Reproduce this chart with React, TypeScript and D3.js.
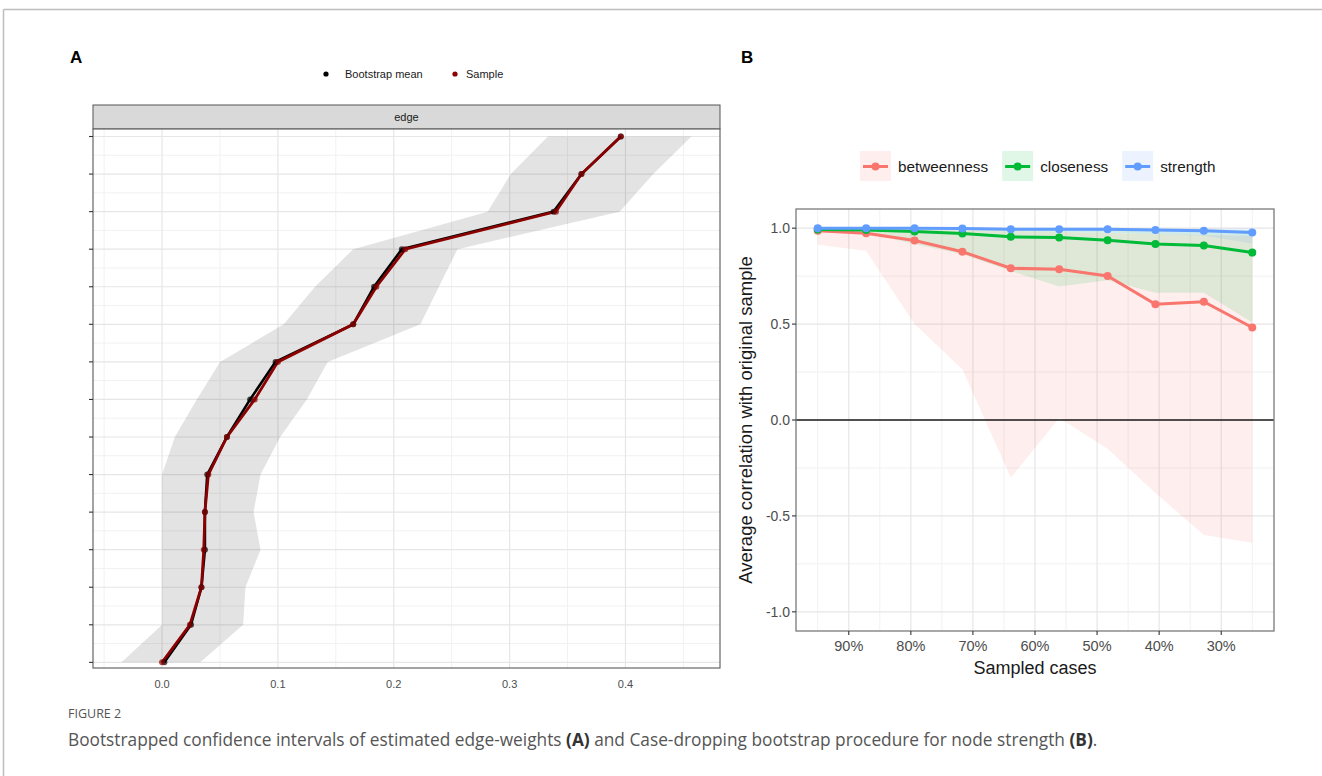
import React, { useRef, useEffect } from 'react';
import * as d3 from 'd3';

// Panel A: edge weights, sorted from smallest (bottom) to largest (top)
const EDGE_RANK = d3.range(1, 16);
const BOOT_MEAN = [0.002, 0.025, 0.034, 0.037, 0.037, 0.039, 0.056, 0.076, 0.098, 0.165, 0.183, 0.207, 0.338, 0.362, 0.396];
const SAMPLE_W = [0.000, 0.024, 0.034, 0.036, 0.037, 0.040, 0.056, 0.080, 0.100, 0.165, 0.185, 0.210, 0.340, 0.362, 0.396];
const CI_LOWER = [-0.035, 0.000, 0.000, 0.000, 0.000, 0.000, 0.011, 0.030, 0.050, 0.105, 0.132, 0.165, 0.281, 0.301, 0.333];
const CI_UPPER = [0.033, 0.070, 0.072, 0.085, 0.079, 0.085, 0.102, 0.125, 0.143, 0.223, 0.239, 0.255, 0.395, 0.424, 0.457];
const A_TICKS = [0.0, 0.1, 0.2, 0.3, 0.4];

// Panel B: case-dropping bootstrap
const SAMPLED = [95, 87.2, 79.4, 71.7, 63.9, 56.1, 48.3, 40.6, 32.8, 25];
const BETWEENNESS = [0.986, 0.974, 0.936, 0.877, 0.791, 0.786, 0.751, 0.603, 0.617, 0.482];
const CLOSENESS = [0.993, 0.990, 0.983, 0.972, 0.955, 0.951, 0.937, 0.917, 0.910, 0.873];
const STRENGTH = [1.0, 1.0, 0.999, 0.998, 0.995, 0.995, 0.994, 0.990, 0.987, 0.977];
const BETWEENNESS_LO = [0.913, 0.882, 0.50, 0.264, -0.30, 0.01, -0.15, -0.38, -0.60, -0.64];
const BETWEENNESS_HI = [1.0, 1.0, 0.995, 0.99, 0.985, 0.98, 0.975, 0.97, 0.965, 0.96];
const CLOSENESS_LO = [0.985, 0.975, 0.917, 0.864, 0.777, 0.696, 0.729, 0.664, 0.664, 0.508];
const CLOSENESS_HI = [1.0, 1.0, 1.0, 1.0, 1.0, 0.998, 0.997, 0.995, 0.993, 0.99];
const STRENGTH_LO = [0.998, 0.996, 0.993, 0.99, 0.985, 0.982, 0.978, 0.97, 0.96, 0.92];
const STRENGTH_HI = [1, 1, 1, 1, 1, 1, 1, 1, 1, 1];
const B_XTICKS = [90, 80, 70, 60, 50, 40, 30];
const B_YTICKS = [-1.0, -0.5, 0.0, 0.5, 1.0];
const MEASURES = ['betweenness', 'closeness', 'strength'];
const MEASURE_COLORS = ['#F8766D', '#00BA38', '#619CFF'];

const W = 1322, H = 776;
const SANS = '"Liberation Sans", Arial, sans-serif';
const CAPTION_FONT = '"Open Sans", Lato, sans-serif';

export default function App() {
  const svgRef = useRef<SVGSVGElement | null>(null);

  useEffect(() => {
    if (!svgRef.current) return;
    const svg = d3.select(svgRef.current);
    svg.selectAll('*').remove();

    // figure frame
    svg.append('line').attr('x1', 3.5).attr('x2', W).attr('y1', 9.5).attr('y2', 9.5).attr('stroke', '#bdbdbd').attr('stroke-width', 1.5);
    svg.append('line').attr('x1', 3.5).attr('x2', 3.5).attr('y1', 9.5).attr('y2', H).attr('stroke', '#bdbdbd').attr('stroke-width', 1.5);

    // ---------- Panel A ----------
    const A = { left: 93, right: 720, top: 129, bottom: 668 };
    const lo = d3.min(CI_LOWER)!, hi = d3.max(CI_UPPER)!;
    const pad = (hi - lo) * 0.05;
    const ax = d3.scaleLinear().domain([lo - pad, hi + pad]).range([A.left, A.right]);
    const ay = d3.scaleLinear().domain([0.85, 15.2]).range([A.bottom, A.top]);
    const gA = svg.append('g');

    svg.append('text').attr('x', 70).attr('y', 63).attr('font-family', SANS).attr('font-weight', 'bold').attr('font-size', '17px').text('A');

    // legend
    const legA = gA.append('g').attr('font-family', SANS).attr('font-size', '11px').attr('fill', '#1a1a1a');
    legA.append('circle').attr('cx', 326).attr('cy', 74).attr('r', 2.6).attr('fill', 'black');
    legA.append('text').attr('x', 345).attr('y', 78).text('Bootstrap mean');
    legA.append('circle').attr('cx', 455).attr('cy', 74).attr('r', 2.6).attr('fill', '#8B0000');
    legA.append('text').attr('x', 466).attr('y', 78).text('Sample');

    // strip
    gA.append('rect').attr('x', A.left).attr('y', 105).attr('width', A.right - A.left).attr('height', A.top - 105)
      .attr('fill', '#d9d9d9').attr('stroke', '#555').attr('stroke-width', 1);
    gA.append('text').attr('x', (A.left + A.right) / 2).attr('y', 121).attr('text-anchor', 'middle')
      .attr('font-family', SANS).attr('font-size', '11px').attr('fill', '#1a1a1a').text('edge');

    gA.append('rect').attr('x', A.left).attr('y', A.top).attr('width', A.right - A.left).attr('height', A.bottom - A.top).attr('fill', 'white');
    d3.range(-0.05, 0.46, 0.1).forEach((t) => {
      gA.append('line').attr('x1', ax(t)).attr('x2', ax(t)).attr('y1', A.top).attr('y2', A.bottom).attr('stroke', '#f1f1f1').attr('stroke-width', 1);
    });
    d3.range(1.5, 15, 1).forEach((t) => {
      gA.append('line').attr('x1', A.left).attr('x2', A.right).attr('y1', ay(t)).attr('y2', ay(t)).attr('stroke', '#f1f1f1').attr('stroke-width', 1);
    });
    A_TICKS.forEach((t) => {
      gA.append('line').attr('x1', ax(t)).attr('x2', ax(t)).attr('y1', A.top).attr('y2', A.bottom).attr('stroke', '#e6e6e6').attr('stroke-width', 1.2);
    });
    EDGE_RANK.forEach((r) => {
      gA.append('line').attr('x1', A.left).attr('x2', A.right).attr('y1', ay(r)).attr('y2', ay(r)).attr('stroke', '#e6e6e6').attr('stroke-width', 1.2);
    });

    const ribbon = d3.area<number>().y((r) => ay(r)).x0((_, i) => ax(CI_LOWER[i])).x1((_, i) => ax(CI_UPPER[i]));
    gA.append('path').attr('d', ribbon(EDGE_RANK)).attr('fill', 'black').attr('fill-opacity', 0.11);

    const lineOf = (vals: number[]) => d3.line<number>().x((_, i) => ax(vals[i])).y((r) => ay(r))(EDGE_RANK);
    gA.append('path').attr('d', lineOf(BOOT_MEAN)).attr('fill', 'none').attr('stroke', 'black').attr('stroke-width', 2.6);
    gA.append('path').attr('d', lineOf(SAMPLE_W)).attr('fill', 'none').attr('stroke', '#8B0000').attr('stroke-width', 2.8);
    EDGE_RANK.forEach((r, i) => {
      gA.append('circle').attr('cx', ax(BOOT_MEAN[i])).attr('cy', ay(r)).attr('r', 3).attr('fill', 'black').attr('fill-opacity', 0.7);
      gA.append('circle').attr('cx', ax(SAMPLE_W[i])).attr('cy', ay(r)).attr('r', 3).attr('fill', '#8B0000').attr('fill-opacity', 0.7);
    });

    gA.append('rect').attr('x', A.left).attr('y', A.top).attr('width', A.right - A.left).attr('height', A.bottom - A.top)
      .attr('fill', 'none').attr('stroke', '#666').attr('stroke-width', 1.2);
    EDGE_RANK.forEach((r) => {
      gA.append('line').attr('x1', A.left - 4).attr('x2', A.left).attr('y1', ay(r)).attr('y2', ay(r)).attr('stroke', '#333').attr('stroke-width', 1.1);
    });
    A_TICKS.forEach((t) => {
      gA.append('text').attr('x', ax(t)).attr('y', 688).attr('text-anchor', 'middle').attr('font-family', SANS)
        .attr('font-size', '11px').attr('fill', '#4d4d4d').text(d3.format('.1f')(t));
    });

    // ---------- Panel B ----------
    const B = { left: 796, right: 1274, top: 209, bottom: 631 };
    const xs = d3.extent(SAMPLED) as [number, number];
    const xpad = (xs[1] - xs[0]) * 0.05;
    const bx = d3.scaleLinear().domain([xs[1] + xpad, xs[0] - xpad]).range([B.left, B.right]);
    const by = d3.scaleLinear().domain([-1.1, 1.1]).range([B.bottom, B.top]);
    const gB = svg.append('g');

    svg.append('text').attr('x', 741).attr('y', 63).attr('font-family', SANS).attr('font-weight', 'bold').attr('font-size', '17px').text('B');

    // legend
    const legB = gB.append('g').attr('font-family', SANS).attr('font-size', '15.3px').attr('fill', '#1a1a1a');
    let lx = 860;
    MEASURES.forEach((m, i) => {
      const c = MEASURE_COLORS[i];
      legB.append('rect').attr('x', lx).attr('y', 151).attr('width', 31).attr('height', 30).attr('fill', c).attr('fill-opacity', 0.12);
      legB.append('line').attr('x1', lx + 3).attr('x2', lx + 28).attr('y1', 166.5).attr('y2', 166.5).attr('stroke', c).attr('stroke-width', 3);
      legB.append('circle').attr('cx', lx + 15.5).attr('cy', 166.5).attr('r', 4).attr('fill', c);
      const t = legB.append('text').attr('x', lx + 38).attr('y', 172).text(m);
      const tw = (t.node() as SVGTextElement).getComputedTextLength();
      lx += 38 + tw + 14;
    });

    gB.append('rect').attr('x', B.left).attr('y', B.top).attr('width', B.right - B.left).attr('height', B.bottom - B.top).attr('fill', 'white');
    d3.range(95, 20, -10).forEach((t) => {
      gB.append('line').attr('x1', bx(t)).attr('x2', bx(t)).attr('y1', B.top).attr('y2', B.bottom).attr('stroke', '#f1f1f1').attr('stroke-width', 1);
    });
    [-0.75, -0.25, 0.25, 0.75].forEach((t) => {
      gB.append('line').attr('x1', B.left).attr('x2', B.right).attr('y1', by(t)).attr('y2', by(t)).attr('stroke', '#f1f1f1').attr('stroke-width', 1);
    });
    B_XTICKS.forEach((t) => {
      gB.append('line').attr('x1', bx(t)).attr('x2', bx(t)).attr('y1', B.top).attr('y2', B.bottom).attr('stroke', '#e6e6e6').attr('stroke-width', 1.2);
    });
    B_YTICKS.forEach((t) => {
      gB.append('line').attr('x1', B.left).attr('x2', B.right).attr('y1', by(t)).attr('y2', by(t)).attr('stroke', '#e6e6e6').attr('stroke-width', 1.2);
    });

    const series = [
      { vals: BETWEENNESS, lo: BETWEENNESS_LO, hi: BETWEENNESS_HI },
      { vals: CLOSENESS, lo: CLOSENESS_LO, hi: CLOSENESS_HI },
      { vals: STRENGTH, lo: STRENGTH_LO, hi: STRENGTH_HI },
    ];
    series.forEach((s, k) => {
      const area = d3.area<number>().x((p) => bx(p)).y0((_, i) => by(s.lo[i])).y1((_, i) => by(s.hi[i]));
      gB.append('path').attr('d', area(SAMPLED)).attr('fill', MEASURE_COLORS[k]).attr('fill-opacity', 0.12);
    });
    gB.append('line').attr('x1', B.left).attr('x2', B.right).attr('y1', by(0)).attr('y2', by(0)).attr('stroke', '#1a1a1a').attr('stroke-width', 1.6);
    series.forEach((s, k) => {
      const line = d3.line<number>().x((p) => bx(p)).y((_, i) => by(s.vals[i]));
      gB.append('path').attr('d', line(SAMPLED)).attr('fill', 'none').attr('stroke', MEASURE_COLORS[k]).attr('stroke-width', 3);
      SAMPLED.forEach((p, i) => {
        gB.append('circle').attr('cx', bx(p)).attr('cy', by(s.vals[i])).attr('r', 4).attr('fill', MEASURE_COLORS[k]);
      });
    });

    gB.append('rect').attr('x', B.left).attr('y', B.top).attr('width', B.right - B.left).attr('height', B.bottom - B.top)
      .attr('fill', 'none').attr('stroke', '#7a7a7a').attr('stroke-width', 1.3);
    B_YTICKS.forEach((t) => {
      gB.append('line').attr('x1', B.left - 4).attr('x2', B.left).attr('y1', by(t)).attr('y2', by(t)).attr('stroke', '#333').attr('stroke-width', 1.1);
      gB.append('text').attr('x', B.left - 6).attr('y', by(t) + 5).attr('text-anchor', 'end').attr('font-family', SANS)
        .attr('font-size', '14px').attr('fill', '#4d4d4d').text(d3.format('.1f')(t).replace('−', '-'));
    });
    B_XTICKS.forEach((t) => {
      gB.append('line').attr('x1', bx(t)).attr('x2', bx(t)).attr('y1', B.bottom).attr('y2', B.bottom + 4).attr('stroke', '#333').attr('stroke-width', 1.1);
      gB.append('text').attr('x', bx(t)).attr('y', B.bottom + 20).attr('text-anchor', 'middle').attr('font-family', SANS)
        .attr('font-size', '14.5px').attr('fill', '#4d4d4d').text(`${t}%`);
    });
    gB.append('text').attr('x', (B.left + B.right) / 2).attr('y', 674).attr('text-anchor', 'middle').attr('font-family', SANS)
      .attr('font-size', '18px').attr('fill', '#1a1a1a').text('Sampled cases');
    gB.append('text').attr('transform', `translate(752,${(B.top + B.bottom) / 2}) rotate(-90)`).attr('text-anchor', 'middle')
      .attr('font-family', SANS).attr('font-size', '18.5px').attr('fill', '#1a1a1a').text('Average correlation with original sample');

    // ---------- caption ----------
    svg.append('text').attr('x', 68).attr('y', 718).attr('font-family', CAPTION_FONT).attr('font-size', '12.5px')
      .attr('fill', '#555').text('FIGURE 2');
    const cap = svg.append('text').attr('x', 68).attr('y', 746).attr('font-family', CAPTION_FONT).attr('font-size', '17.3px').attr('fill', '#555');
    cap.append('tspan').text('Bootstrapped confidence intervals of estimated edge-weights ');
    cap.append('tspan').attr('font-weight', 'bold').attr('fill', '#333').text('(A)');
    cap.append('tspan').text(' and Case-dropping bootstrap procedure for node strength ');
    cap.append('tspan').attr('font-weight', 'bold').attr('fill', '#333').text('(B)');
    cap.append('tspan').text('.');
  }, []);

  return (
    <svg ref={svgRef} width={W} height={H} style={{ position: 'absolute', left: 0, top: 0, background: 'white' }} />
  );
}
